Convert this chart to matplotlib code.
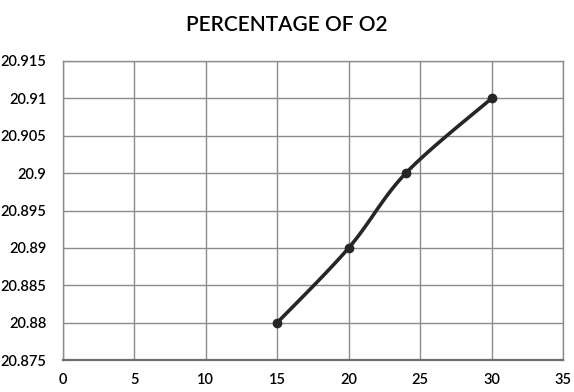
import numpy as np
import matplotlib
matplotlib.use("Agg")
import matplotlib.pyplot as plt

# Data
time_values = [15, 20, 24, 30]
o2_percent = [20.88, 20.89, 20.90, 20.91]
x_ticks = [0, 5, 10, 15, 20, 25, 30, 35]
y_ticks = [20.875, 20.88, 20.885, 20.89, 20.895, 20.9, 20.905, 20.91, 20.915]
y_labels = ["20.875", "20.88", "20.885", "20.89", "20.895", "20.9", "20.905", "20.91", "20.915"]

plt.rcParams['font.family'] = ['Lato', 'DejaVu Sans']


def smooth_curve(xs, ys, steps=40):
    # Excel-style smoothing: Catmull-Rom control points on cubic Bezier
    xs = np.asarray(xs, float)
    ys = np.asarray(ys, float)
    n = len(xs)
    out_x, out_y = [], []
    for i in range(n - 1):
        p0 = np.array([xs[max(i - 1, 0)], ys[max(i - 1, 0)]])
        p1 = np.array([xs[i], ys[i]])
        p2 = np.array([xs[i + 1], ys[i + 1]])
        p3 = np.array([xs[min(i + 2, n - 1)], ys[min(i + 2, n - 1)]])
        c1 = p1 + (p2 - p0) / 6.0
        c2 = p2 - (p3 - p1) / 6.0
        t = np.linspace(0, 1, steps)[:, None]
        pts = ((1 - t) ** 3) * p1 + 3 * ((1 - t) ** 2) * t * c1 + 3 * (1 - t) * t ** 2 * c2 + t ** 3 * p2
        out_x.extend(pts[:, 0])
        out_y.extend(pts[:, 1])
    return out_x, out_y


fig = plt.figure(figsize=(5.74, 3.92), dpi=100)
ax = fig.add_axes([63 / 574, 1 - 360 / 392, 500 / 574, 299 / 392])

sx, sy = smooth_curve(time_values, o2_percent)
ax.plot(sx, sy, color='#262626', lw=2.6, solid_capstyle='round', zorder=3)
ax.plot(time_values, o2_percent, 'o', color='#262626', ms=6, zorder=4)

ax.set_xlim(0, 35)
ax.set_ylim(20.875, 20.915)
ax.set_xticks(x_ticks)
ax.set_yticks(y_ticks)
ax.set_yticklabels(y_labels)
ax.grid(True, color='#8c8c8c', lw=1.0)
ax.set_axisbelow(True)
ax.tick_params(length=0, labelsize=10.5, colors='black')
ax.tick_params(axis='x', pad=9)
ax.tick_params(axis='y', pad=12)
for label in ax.get_xticklabels() + ax.get_yticklabels():
    label.set_fontweight('semibold')
for side in ['top', 'right', 'left']:
    ax.spines[side].set_color('#8c8c8c')
    ax.spines[side].set_linewidth(1.0)
ax.spines['bottom'].set_color('#6e6e6e')
ax.spines['bottom'].set_linewidth(1.6)

fig.text(0.5, 1 - 25 / 392, "PERCENTAGE OF O2", ha='center', va='center',
         fontsize=15, fontweight='semibold')

fig.savefig("out.png", dpi=100)
plt.close(fig)
